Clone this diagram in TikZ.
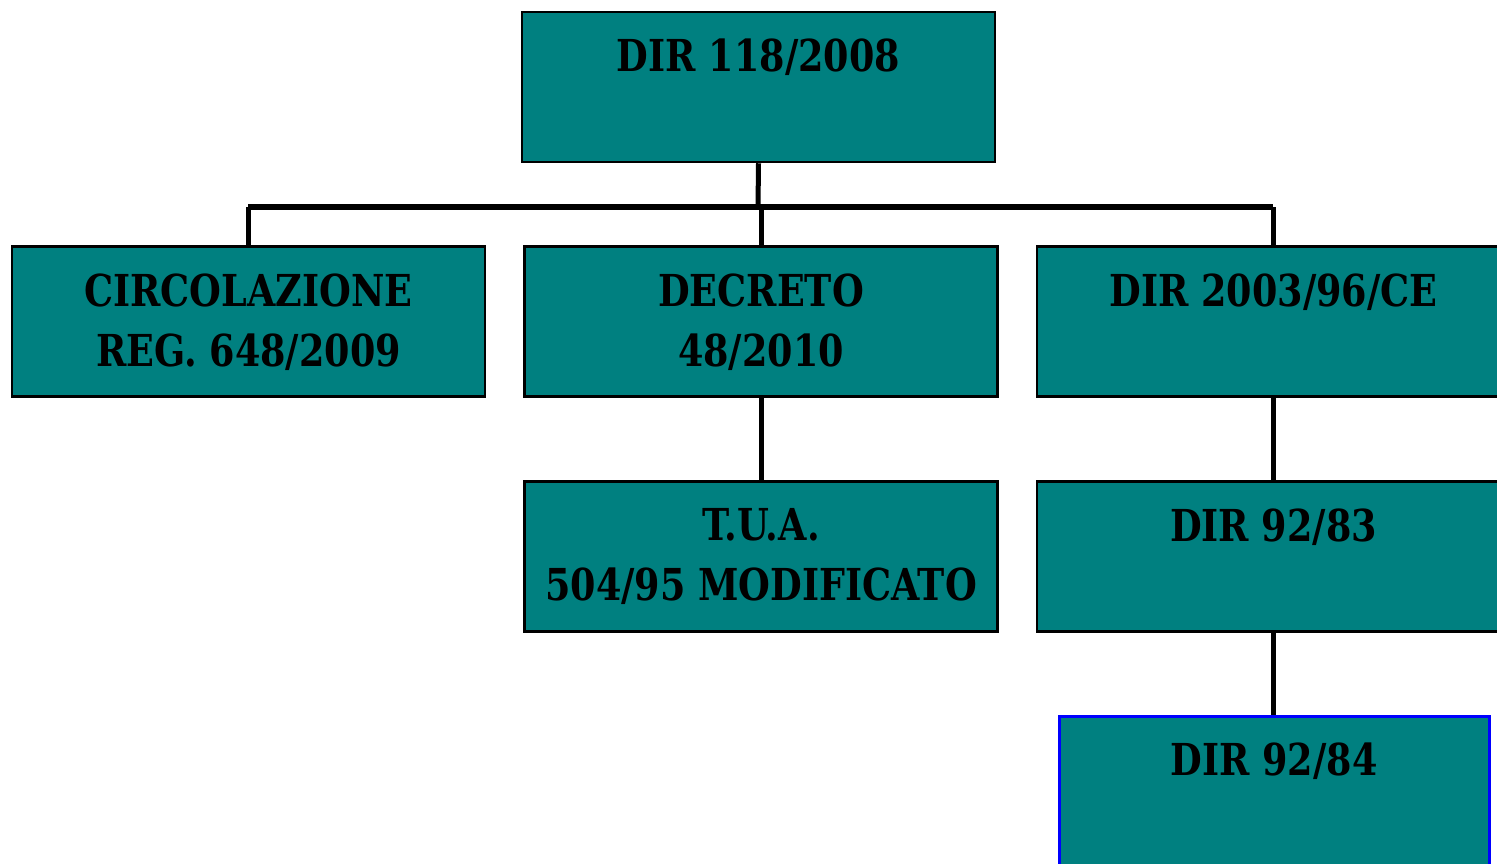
\documentclass[tikz,border=0pt]{standalone}
\usepackage{fontspec}
\usepackage{xcolor}
\newfontfamily\boxfont{DejaVu Serif}[FakeStretch=0.83]
\definecolor{teal}{RGB}{0,128,128}
\tikzstyle{box}=[draw, line width=2.5pt, fill=teal, inner sep=0,
		minimum width=473pt, minimum height=150pt]
\tikzstyle{lbl}=[anchor=north, yshift=-28pt, align=center, inner sep=0,
		font=\boxfont\bfseries\fontsize{44}{60}\selectfont]
\tikzstyle{link}=[line width=5pt]
\tikzstyle{bus}=[line width=6pt]

\begin{document}
\begin{tikzpicture}[x=1pt, y=1pt]
                \useasboundingbox (0,0) rectangle (1497,-863);
                \clip (0,0) rectangle (1497,-863);
                % top level
                \node[box, label={[lbl]north:DIR 118/2008}] (dir118) at (758.5,-87) {};
                % second row
                \node[box, label={[lbl]north:CIRCOLAZIONE\\REG. 648/2009}] (circ) at (248.5,-321.5) {};
                \node[box, label={[lbl]north:DECRETO\\48/2010}] (decreto) at (761,-321.5) {};
                \node[box, label={[lbl]north:DIR 2003/96/CE}] (dir2003) at (1273.5,-321.5) {};
                % third row
                \node[box, label={[lbl]north:T.U.A.\\504/95 MODIFICATO}] (tua) at (761,-556.5) {};
                \node[box, label={[lbl]north:DIR 92/83}] (dir9283) at (1273.5,-556.5) {};
                % fourth row
                \node[box, draw=blue, line width=3pt, minimum width=430pt, label={[lbl]north:DIR 92/84}] (dir9284) at (1274,-791) {};
                % connectors
                \coordinate (busL) at (248,-207);
                \coordinate (busR) at (1273,-207);
                \coordinate (busM) at (758,-207);
                \draw[bus] (busL) -- (busR);
                \draw[link] (dir118.south) -- (busM);
                \draw[link] (busL) -- (busL |- circ.north);
                \draw[link] (decreto.north |- busM) -- (decreto.north);
                \draw[link] (busR) -- (busR |- dir2003.north);
                \draw[link] (decreto.south) -- (tua.north);
                \draw[link] (dir2003.south) -- (dir9283.south |- dir9283.north);
                \draw[link] (dir9283.south) -- (dir9283.south |- dir9284.north);
            \end{tikzpicture}
\end{document}
